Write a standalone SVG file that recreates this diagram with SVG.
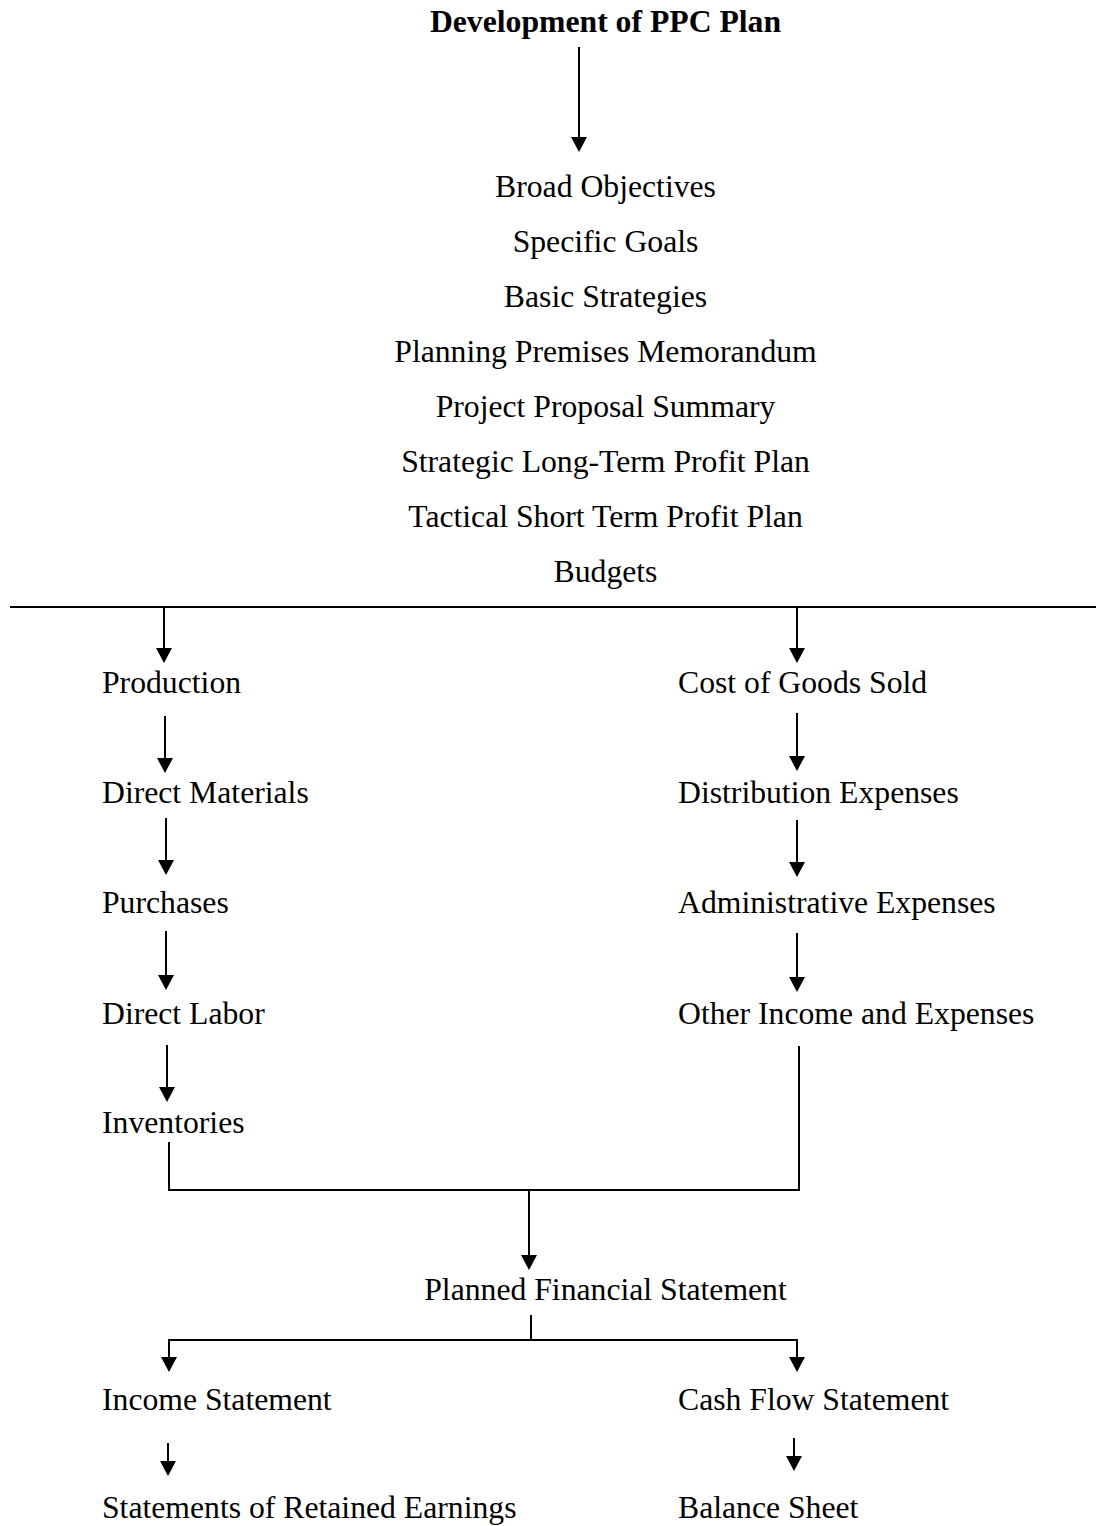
<svg xmlns="http://www.w3.org/2000/svg" width="1096" height="1526" viewBox="0 0 1096 1526">
  <style>
    .t { font-family: "Liberation Serif", "Times New Roman", serif; font-size: 31.7px; fill: #000; }
    .c { text-anchor: middle; }
    .b { font-weight: bold; }
    .ln { fill: none; stroke: #000; stroke-width: 2; }
    .arr { marker-end: url(#head); }
  </style>
  <defs>
    <marker id="head" markerUnits="userSpaceOnUse" viewBox="0 0 15 16" markerWidth="15" markerHeight="16" refX="7" refY="8" orient="auto">
      <path d="M0,0 L15,8 L0,16 Z" fill="#000"/>
    </marker>
  </defs>
  <rect width="1096" height="1526" fill="#fff"/>

  <!-- planning sequence -->
  <g id="title"><text class="t c b" x="605.5" y="32">Development of PPC Plan</text></g>
  <g id="broad-objectives"><text class="t c" x="605.5" y="197">Broad Objectives</text></g>
  <g id="specific-goals"><text class="t c" x="605.5" y="252">Specific Goals</text></g>
  <g id="basic-strategies"><text class="t c" x="605.5" y="307">Basic Strategies</text></g>
  <g id="planning-premises"><text class="t c" x="605.5" y="362">Planning Premises Memorandum</text></g>
  <g id="project-proposal"><text class="t c" x="605.5" y="417">Project Proposal Summary</text></g>
  <g id="strategic-plan"><text class="t c" x="605.5" y="472">Strategic Long-Term Profit Plan</text></g>
  <g id="tactical-plan"><text class="t c" x="605.5" y="527">Tactical Short Term Profit Plan</text></g>
  <g id="budgets"><text class="t c" x="605.5" y="582">Budgets</text></g>

  <!-- operating budgets -->
  <g id="production"><text class="t" x="102" y="693">Production</text></g>
  <g id="direct-materials"><text class="t" x="102" y="803">Direct Materials</text></g>
  <g id="purchases"><text class="t" x="102" y="913">Purchases</text></g>
  <g id="direct-labor"><text class="t" x="102" y="1024">Direct Labor</text></g>
  <g id="inventories"><text class="t" x="102" y="1133">Inventories</text></g>

  <g id="cost-of-goods-sold"><text class="t" x="678" y="693">Cost of Goods Sold</text></g>
  <g id="distribution-expenses"><text class="t" x="678" y="803">Distribution Expenses</text></g>
  <g id="administrative-expenses"><text class="t" x="678" y="913">Administrative Expenses</text></g>
  <g id="other-income"><text class="t" x="678" y="1024">Other Income and Expenses</text></g>

  <!-- financial statements -->
  <g id="planned-statement"><text class="t c" x="605.5" y="1300">Planned Financial Statement</text></g>
  <g id="income-statement"><text class="t" x="102" y="1410">Income Statement</text></g>
  <g id="retained-earnings"><text class="t" x="102" y="1518">Statements of Retained Earnings</text></g>
  <g id="cash-flow"><text class="t" x="678" y="1410">Cash Flow Statement</text></g>
  <g id="balance-sheet"><text class="t" x="678" y="1518">Balance Sheet</text></g>

  <g id="connectors">
    <line class="ln arr" x1="579" y1="47" x2="579" y2="144"/>
    <line class="ln" x1="10" y1="607" x2="1096" y2="607" stroke-width="2.5"/>
    <line class="ln arr" x1="164" y1="607" x2="164" y2="655"/>
    <line class="ln arr" x1="797" y1="607" x2="797" y2="655"/>

    <line class="ln arr" x1="165" y1="716" x2="165" y2="765"/>
    <line class="ln arr" x1="166" y1="818" x2="166" y2="867"/>
    <line class="ln arr" x1="166" y1="931" x2="166" y2="982"/>
    <line class="ln arr" x1="167" y1="1045" x2="167" y2="1094"/>

    <line class="ln arr" x1="797" y1="713" x2="797" y2="763"/>
    <line class="ln arr" x1="797" y1="820" x2="797" y2="869"/>
    <line class="ln arr" x1="797" y1="933" x2="797" y2="984"/>

    <path class="ln" d="M169,1142 V1190 H799 V1046"/>
    <line class="ln arr" x1="529" y1="1190" x2="529" y2="1262"/>

    <path class="ln" d="M531,1315 V1340"/>
    <path class="ln" d="M169,1364 V1340 H797 V1364" marker-end="url(#head)"/>
    <line class="ln arr" x1="169" y1="1340" x2="169" y2="1364"/>

    <line class="ln arr" x1="168" y1="1443" x2="168" y2="1468"/>
    <line class="ln arr" x1="794" y1="1438" x2="794" y2="1463"/>
  </g>
</svg>
